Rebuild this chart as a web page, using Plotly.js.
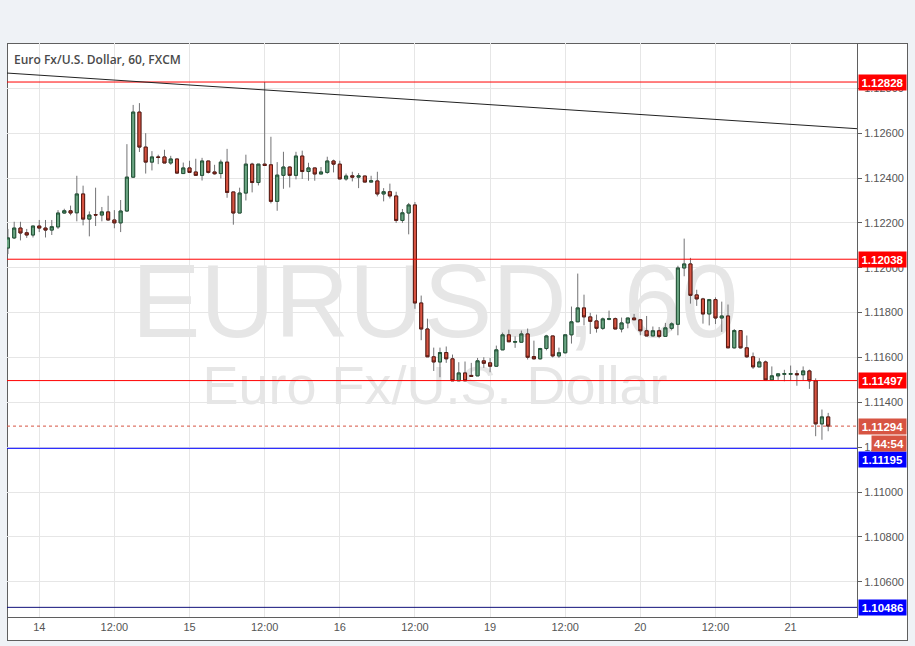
<!DOCTYPE html>
<html>
<head>
<meta charset="utf-8">
<script src="https://cdn.plot.ly/plotly-3.0.1.min.js"></script>
<style>
html,body{margin:0;padding:0;background:#eff2f6;width:915px;height:646px;overflow:hidden;}
#frame{position:absolute;left:7px;top:43px;width:899px;height:596px;border:1px solid #5f5f5f;background:#fff;}
.wm{position:absolute;left:7px;width:856px;text-align:center;font-family:'Liberation Sans',Arial,sans-serif;color:#e6e6e6;white-space:nowrap;}
#wm1{top:250px;font-size:103px;line-height:103px;}
#wm2{top:358px;font-size:54px;line-height:54px;}
#chart{position:absolute;left:0;top:0;width:915px;height:646px;}
</style>
</head>
<body>
<div id="frame"></div>
<div class="wm" id="wm1">EURUSD, 60</div>
<div class="wm" id="wm2">Euro Fx/U.S. Dollar</div>
<div id="chart"></div>
<script>
// Hourly bars, EUR/USD (FXCM), first bar = 13th 19:00, weekend removed
const firstBar = -5;
const open = [
1.12088,1.12133,1.12177,1.12156,1.12146,
1.12186,1.12177,1.12168,1.12182,1.12244,1.12254,1.12245,1.12329,1.12217,1.12237,
1.12235,1.12249,1.12213,1.12200,1.12253,1.12404,1.12694,1.12538,1.12471,1.12494,
1.12494,1.12467,1.12485,1.12420,1.12445,1.12427,1.12412,1.12476,1.12427,1.12420,
1.12471,1.12338,1.12244,1.12333,1.12462,1.12380,1.12462,1.12459,1.12296,1.12412,
1.12449,1.12412,1.12498,1.12429,1.12445,1.12418,1.12425,1.12476,1.12462,1.12396,
1.12410,1.12404,1.12409,1.12382,1.12387,1.12329,1.12339,1.12320,1.12211,1.12244,
1.12280,1.11843,1.11727,1.11603,1.11580,1.11622,1.11594,1.11496,1.11531,1.11520,
1.11518,1.11585,1.11576,1.11561,1.11634,1.11701,1.11668,1.11668,1.11705,1.11604,
1.11594,1.11640,1.11696,1.11607,1.11621,1.11701,1.11759,1.11821,1.11781,1.11763,
1.11730,1.11770,1.11773,1.11727,1.11754,1.11776,1.11768,1.11719,1.11696,1.11719,
1.11694,1.11730,1.11748,1.11999,1.12017,1.11879,1.11861,1.11794,1.11858,1.11776,
1.11785,1.11643,1.11720,1.11643,1.11603,1.11558,1.11580,1.11500,1.11518,1.11525,
1.11525,1.11528,1.11523,1.11540,1.11496,1.11304,1.11335
];
const high = [
1.12173,1.12205,1.12205,1.12173,1.12186,
1.12213,1.12213,1.12213,1.12257,1.12263,1.12277,1.12410,1.12366,1.12251,1.12357,
1.12271,1.12321,1.12257,1.12302,1.12551,1.12726,1.12734,1.12600,1.12520,1.12504,
1.12526,1.12499,1.12485,1.12469,1.12477,1.12486,1.12490,1.12476,1.12459,1.12482,
1.12530,1.12338,1.12357,1.12504,1.12468,1.12462,1.12828,1.12584,1.12471,1.12517,
1.12452,1.12517,1.12522,1.12468,1.12445,1.12449,1.12495,1.12482,1.12477,1.12420,
1.12428,1.12422,1.12409,1.12410,1.12428,1.12355,1.12375,1.12339,1.12262,1.12289,
1.12293,1.11876,1.11773,1.11644,1.11644,1.11649,1.11613,1.11579,1.11582,1.11576,
1.11598,1.11601,1.11598,1.11653,1.11711,1.11724,1.11694,1.11720,1.11729,1.11675,
1.11643,1.11701,1.11696,1.11644,1.11701,1.11827,1.11974,1.11880,1.11799,1.11791,
1.11778,1.11809,1.11778,1.11778,1.11776,1.11794,1.11769,1.11785,1.11738,1.11736,
1.11754,1.11757,1.12009,1.12130,1.12044,1.11902,1.11866,1.11861,1.11868,1.11849,
1.11836,1.11727,1.11720,1.11698,1.11622,1.11597,1.11586,1.11560,1.11527,1.11545,
1.11564,1.11543,1.11560,1.11546,1.11507,1.11368,1.11353
];
const low = [
1.12061,1.12128,1.12122,1.12133,1.12135,
1.12159,1.12135,1.12146,1.12173,1.12241,1.12234,1.12207,1.12189,1.12140,1.12186,
1.12207,1.12210,1.12176,1.12159,1.12250,1.12400,1.12516,1.12420,1.12434,1.12462,
1.12467,1.12459,1.12419,1.12418,1.12422,1.12412,1.12389,1.12420,1.12415,1.12398,
1.12312,1.12192,1.12244,1.12300,1.12336,1.12367,1.12456,1.12287,1.12254,1.12352,
1.12358,1.12394,1.12396,1.12388,1.12388,1.12418,1.12419,1.12425,1.12396,1.12388,
1.12385,1.12355,1.12382,1.12382,1.12318,1.12296,1.12309,1.12200,1.12200,1.12149,
1.11817,1.11677,1.11603,1.11540,1.11512,1.11576,1.11496,1.11496,1.11496,1.11516,
1.11518,1.11554,1.11534,1.11561,1.11634,1.11670,1.11643,1.11668,1.11591,1.11591,
1.11591,1.11632,1.11600,1.11598,1.11618,1.11662,1.11759,1.11743,1.11705,1.11711,
1.11723,1.11766,1.11727,1.11712,1.11730,1.11768,1.11699,1.11696,1.11696,1.11686,
1.11694,1.11721,1.11699,1.11962,1.11840,1.11830,1.11751,1.11743,1.11749,1.11714,
1.11643,1.11640,1.11640,1.11598,1.11549,1.11558,1.11500,1.11500,1.11500,1.11494,
1.11497,1.11474,1.11498,1.11460,1.11249,1.11233,1.11271
];
const close = [
1.12133,1.12177,1.12155,1.12146,1.12186,
1.12177,1.12168,1.12183,1.12244,1.12254,1.12244,1.12329,1.12217,1.12235,1.12235,
1.12249,1.12213,1.12200,1.12253,1.12404,1.12694,1.12538,1.12471,1.12494,1.12492,
1.12467,1.12485,1.12422,1.12445,1.12425,1.12412,1.12476,1.12425,1.12419,1.12471,
1.12336,1.12244,1.12333,1.12462,1.12380,1.12462,1.12456,1.12296,1.12413,1.12449,
1.12412,1.12498,1.12429,1.12445,1.12418,1.12427,1.12476,1.12462,1.12396,1.12409,
1.12404,1.12410,1.12382,1.12388,1.12329,1.12339,1.12320,1.12211,1.12245,1.12280,
1.11843,1.11727,1.11603,1.11580,1.11622,1.11594,1.11496,1.11531,1.11496,1.11516,
1.11585,1.11574,1.11561,1.11634,1.11701,1.11670,1.11671,1.11705,1.11601,1.11594,
1.11640,1.11696,1.11607,1.11621,1.11701,1.11759,1.11821,1.11781,1.11761,1.11730,
1.11772,1.11773,1.11727,1.11754,1.11776,1.11768,1.11719,1.11696,1.11719,1.11694,
1.11732,1.11750,1.11999,1.12017,1.11877,1.11861,1.11794,1.11858,1.11776,1.11785,
1.11643,1.11720,1.11643,1.11603,1.11558,1.11580,1.11500,1.11518,1.11527,1.11528,
1.11528,1.11523,1.11540,1.11496,1.11304,1.11335,1.11294
];

// time axis (bars counted from 14th 00:00)
const timeTickBars = [0,12,24,36,48,60,72,84,96,108,120];
const timeTickLabels = ['14','12:00','15','12:00','16','12:00','19','12:00','20','12:00','21'];
const priceTicks = [1.106,1.108,1.110,1.112,1.114,1.116,1.118,1.120,1.122,1.124,1.126,1.128];

// horizontal levels drawn on the chart
const levelPrices = [1.12828, 1.12038, 1.11497, 1.11195, 1.10486];
const levelColors = ['#ff0000', '#ff0000', '#ff0000', '#0000ff', '#0000ff'];
const levelLineColors = ['#ff0000', '#ff0000', '#ff0000', '#0000ff', '#10107a'];
const levelLabelShift = [0, 0, 0, -11, 0];
const lastPrice = 1.11294;
const countdown = '44:54';
// trend line end prices (at the left and right edges)
const trendPrices = [1.12868, 1.12620];

const xRange = [-5.15, 130.6];
const yRange = [1.10443, 1.13002];

const bars = open.map((_, i) => i + firstBar);
const bodyHigh = open.map((o, i) => Math.max(o, close[i]));
const bodyLow = open.map((o, i) => Math.min(o, close[i]));

const UP_FILL = '#6ba583', UP_LINE = '#225437';
const DN_FILL = '#d75442', DN_LINE = '#5b1a13';
const WICK = '#737375';

const wicks = {
  type: 'candlestick', x: bars, open: open, high: high, low: low, close: close,
  increasing: {line: {color: WICK, width: 1}, fillcolor: UP_FILL},
  decreasing: {line: {color: WICK, width: 1}, fillcolor: DN_FILL},
  hoverinfo: 'skip', showlegend: false
};
const bodies = {
  type: 'candlestick', x: bars, open: open, high: bodyHigh, low: bodyLow, close: close,
  increasing: {line: {color: UP_LINE, width: 1}, fillcolor: UP_FILL},
  decreasing: {line: {color: DN_LINE, width: 1}, fillcolor: DN_FILL},
  hoverinfo: 'skip', showlegend: false
};

const shapes = levelPrices.map((p, i) => ({
  type: 'line', xref: 'paper', yref: 'y', x0: 0, x1: 1, y0: p, y1: p,
  line: {color: levelLineColors[i], width: 1}
}));
shapes.push({type: 'line', xref: 'paper', yref: 'y', x0: 0, x1: 1, y0: lastPrice, y1: lastPrice,
  line: {color: DN_FILL, width: 1, dash: 'dot'}});
shapes.push({type: 'line', xref: 'x', yref: 'y', x0: xRange[0], x1: xRange[1],
  y0: trendPrices[0], y1: trendPrices[1], line: {color: '#222222', width: 1}});

const labelFont = {family: 'Liberation Sans, Arial, sans-serif', size: 11.5, color: '#ffffff', weight: 'bold'};
const annotations = levelPrices.map((p, i) => ({
  xref: 'paper', yref: 'y', x: 1, xshift: 1, xanchor: 'left', y: p, yanchor: 'middle',
  yshift: levelLabelShift[i],
  text: p.toFixed(5), showarrow: false, bgcolor: levelColors[i], font: labelFont,
  width: 47, height: 15, borderpad: 0, align: 'center'
}));
annotations.push({xref: 'paper', yref: 'y', x: 1, xshift: 1, xanchor: 'left', y: lastPrice, yanchor: 'middle',
  text: lastPrice.toFixed(5), showarrow: false, bgcolor: DN_FILL, font: labelFont,
  width: 47, height: 15, borderpad: 0, align: 'center'});
annotations.push({xref: 'paper', yref: 'paper', x: (907 - 7) / 850, xanchor: 'right', y: (617 - 443) / 574, yanchor: 'middle',
  text: countdown, showarrow: false, bgcolor: DN_FILL, font: labelFont,
  width: 34, height: 15, borderpad: 0, align: 'center'});
annotations.push({xref: 'paper', yref: 'paper', x: 5 / 850, xanchor: 'left', y: (617 - 60) / 574, yanchor: 'middle',
  text: 'Euro Fx/U.S. Dollar, 60, FXCM', showarrow: false,
  font: {family: 'Open Sans, sans-serif', size: 12, color: '#4a4a4a', weight: 600}});

const layout = {
  width: 915, height: 646,
  margin: {l: 7, r: 58, t: 43, b: 29, pad: 0},
  paper_bgcolor: 'rgba(0,0,0,0)', plot_bgcolor: 'rgba(0,0,0,0)',
  showlegend: false,
  font: {family: 'Liberation Sans, Arial, sans-serif', size: 11, color: '#555555'},
  xaxis: {
    range: xRange, tickmode: 'array', tickvals: timeTickBars, ticktext: timeTickLabels,
    showgrid: true, gridcolor: '#e6e6e6', gridwidth: 1, zeroline: false,
    showline: true, linecolor: '#5f5f5f', linewidth: 1, ticks: '',
    tickfont: {size: 11, color: '#555555'}, rangeslider: {visible: false}, fixedrange: true
  },
  yaxis: {
    side: 'right', range: yRange, tickmode: 'array', tickvals: priceTicks,
    ticktext: priceTicks.map(v => v.toFixed(5)),
    showgrid: true, gridcolor: '#e6e6e6', gridwidth: 1, zeroline: false,
    showline: true, linecolor: '#5f5f5f', linewidth: 1,
    ticks: 'outside', ticklen: 4, tickcolor: '#5f5f5f',
    tickfont: {size: 11, color: '#555555'}, fixedrange: true
  },
  shapes: shapes,
  annotations: annotations
};

Plotly.newPlot('chart', [wicks, bodies], layout, {staticPlot: true, displayModeBar: false});
</script>
</body>
</html>
